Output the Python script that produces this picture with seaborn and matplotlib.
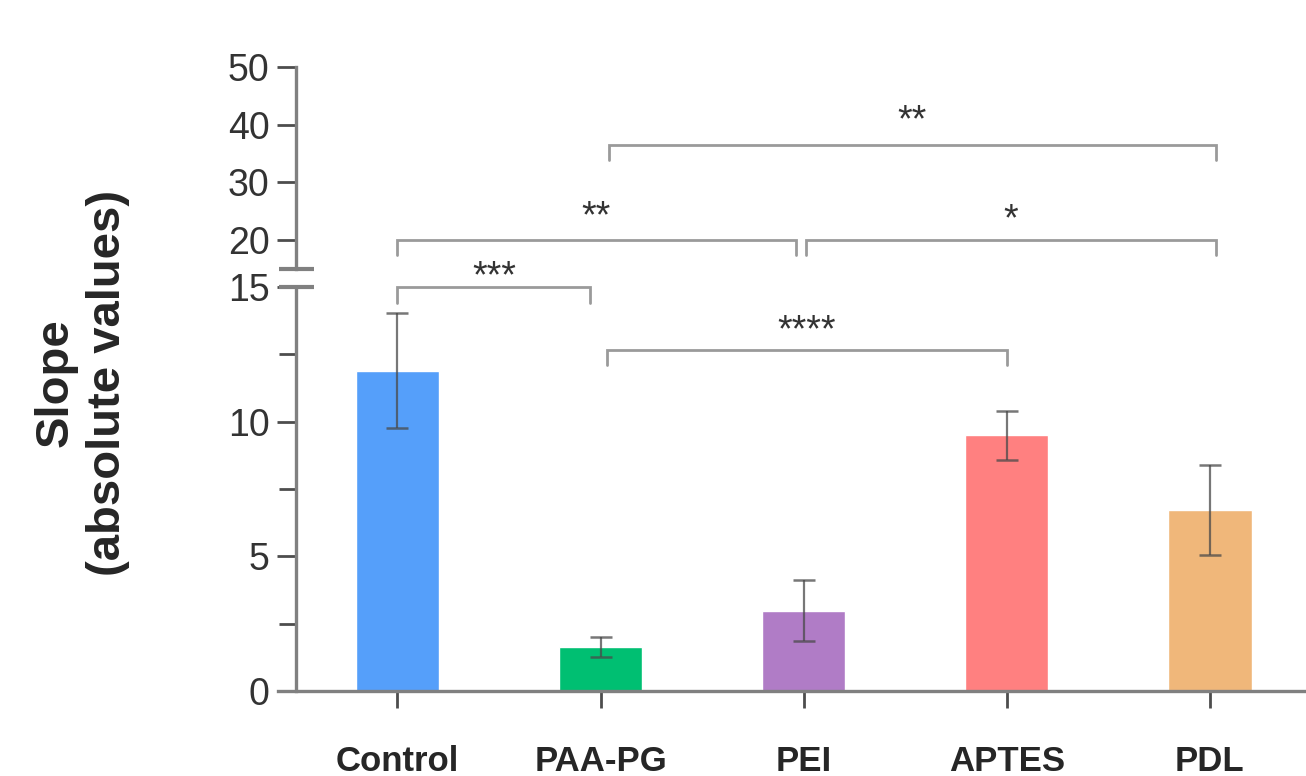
import numpy as np
import pandas as pd
import matplotlib
matplotlib.use("Agg")
import matplotlib.pyplot as plt
import seaborn as sns

# ------------------------------------------------------------
# Data
# ------------------------------------------------------------

groups = ["Control", "PAA-PG", "PEI", "APTES", "PDL"]
slopes = [11.9, 1.63, 2.99, 9.49, 6.72]
errors = [2.15, 0.38, 1.15, 0.9, 1.67]
colors = ["#559FFA", "#00BF72", "#B07CC6", "#FF8080", "#F0B77A"]

df = pd.DataFrame({"group": groups, "slope": slopes})

# ------------------------------------------------------------
# Style
# ------------------------------------------------------------

sns.set_style("ticks")
plt.rcParams["font.family"] = ["Liberation Sans", "DejaVu Sans"]

spine_c = "#808080"
tick_c = "#4d4d4d"
brk_c = "#9a9a9a"

fig = plt.figure(figsize=(13.06, 7.76), dpi=100)
left, width = 0.2125, 0.7875
ax_lo = fig.add_axes([left, 0.1095, width, 0.5205])
ax_up = fig.add_axes([left, 0.6537, width, 0.26])

xmin, xmax = -0.59, 4.473

# ------------------------------------------------------------
# Lower panel: bars
# ------------------------------------------------------------

sns.barplot(data=df, x="group", y="slope", hue="group", palette=colors,
            width=0.41, legend=False, saturation=1, ax=ax_lo)

ax_lo.errorbar(np.arange(len(groups)), slopes, yerr=errors, fmt="none",
               ecolor="#4a4a4a", elinewidth=1.6, capsize=8, capthick=1.8,
               alpha=0.75, zorder=5)

ax_lo.set_ylim(0, 15)
ax_lo.set_yticks([0, 5, 10, 15])
ax_lo.set_yticks([2.5, 7.5, 12.5], minor=True)
ax_lo.set_xlabel("")
ax_lo.set_ylabel("")

for a in (ax_lo, ax_up):
    a.set_xlim(xmin, xmax)
    a.spines["right"].set_visible(False)
    a.spines["top"].set_visible(False)
    a.spines["left"].set_position(("data", -0.5))
    a.spines["left"].set_color(spine_c)
    a.spines["left"].set_linewidth(2.4)
    a.spines["bottom"].set_color(spine_c)
    a.spines["bottom"].set_linewidth(2.4)
    a.tick_params(axis="y", which="major", length=14, width=2, color=tick_c,
                  labelsize=27, labelcolor="#333333", pad=5)
    a.tick_params(axis="y", which="minor", length=12, width=2, color=tick_c)
    a.patch.set_visible(False)

ax_lo.tick_params(axis="x", length=12, width=2, color=tick_c, labelsize=25,
                  pad=27)
for lab in ax_lo.get_xticklabels():
    lab.set_fontweight("bold")

# ------------------------------------------------------------
# Upper panel
# ------------------------------------------------------------

ax_up.set_ylim(15, 50)
ax_up.set_yticks([20, 30, 40, 50])
ax_up.spines["bottom"].set_visible(False)
ax_up.set_xticks([])

# break marks on the y axis
ax_lo.plot([-0.585, -0.41], [15, 15], color=spine_c, lw=3, clip_on=False,
           solid_capstyle="butt")
ax_up.plot([-0.585, -0.41], [15, 15], color=spine_c, lw=3, clip_on=False,
           solid_capstyle="butt")

# ------------------------------------------------------------
# Significance brackets
# ------------------------------------------------------------

def bracket(ax, x1, x2, y, drop, label, text_y):
    ax.plot([x1, x1, x2, x2], [y - drop, y, y, y - drop], color=brk_c,
            lw=2, clip_on=False, solid_joinstyle="miter")
    ax.text((x1 + x2) / 2, text_y, label, ha="center", va="baseline",
            fontsize=27, color="#333333", clip_on=False, zorder=10)

bracket(ax_lo, 0, 0.95, 15.0, 0.6, "***", 15.0)
bracket(ax_lo, 1.03, 3.0, 12.65, 0.55, "****", 12.98)
bracket(ax_up, 0, 1.96, 20.0, 2.6, "**", 22.2)
bracket(ax_up, 2.01, 4.03, 20.0, 2.6, "*", 21.6)
bracket(ax_up, 1.04, 4.03, 36.5, 2.6, "**", 38.8)

# ------------------------------------------------------------
# Y label
# ------------------------------------------------------------

fig.text(82 / 1306, 1 - 383 / 776, "Slope\n(absolute values)", rotation=90,
         ha="center", va="center", multialignment="center", fontsize=34,
         fontweight="bold", linespacing=1.25)

fig.savefig("out.png", dpi=100)
